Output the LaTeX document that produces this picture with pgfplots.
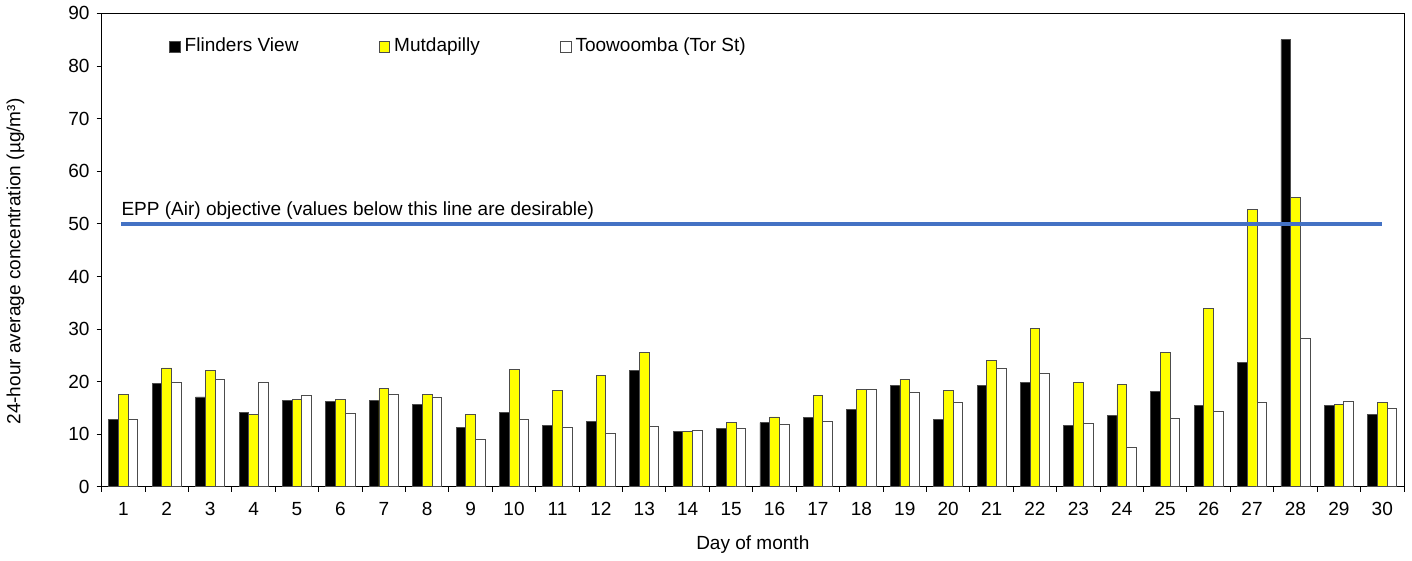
\documentclass[border=0pt]{standalone}
\usepackage{pgfplots}
\pgfplotsset{compat=1.18}
\usepackage{fontspec}
\setmainfont{Liberation Sans}
\definecolor{objblue}{RGB}{68,114,196}
\definecolor{baryellow}{RGB}{255,255,0}

\begin{document}
\begin{tikzpicture}
    \begin{axis}[
        name=ax,
        scale only axis,
        width=650.5pt,
        height=236.5pt,
        ybar=0pt,
        bar width=4.85pt,
        xmin=0.5, xmax=30.5,
        ymin=0, ymax=90,
        ytick distance=10,
        xtick={1,...,30},
        minor xtick={0.5,1.5,...,30.5},
        major x tick style={draw=none},
        minor tick length=2.5pt,
        major tick length=2.5pt,
        tick pos=left,
        tick align=outside,
        axis line style={black, line width=0.5pt},
        every tick/.style={black, line width=0.5pt},
        xlabel={Day of month},
        ylabel={24-hour average concentration (µg/m³)},
        label style={font=\fontsize{9.5}{11}\selectfont},
        tick label style={font=\fontsize{9.5}{11}\selectfont},
        /pgf/number format/assume math mode=true,
        xlabel style={at={(axis description cs:0.5,-0.1226)}, anchor=center},
        ylabel style={at={(axis description cs:-0.0661,0.476)}, anchor=center},
        xticklabel style={yshift=-1.5pt},
        legend columns=3,
        legend style={draw=none, fill=none, at={(0.0515,0.930)}, anchor=west,
            font=\fontsize{9.5}{11}\selectfont, inner sep=0pt,
            /tikz/every even column/.append style={column sep=38pt}},
        legend image code/.code={\draw[#1, line width=0.4pt] (0pt,-2.7pt) rectangle (5.4pt,2.7pt);},
    ]
    \addplot[fill=black, draw=black!70, line width=0.4pt] coordinates {
        (1,12.9) (2,19.7) (3,17.1) (4,14.1) (5,16.4) (6,16.2) (7,16.5) (8,15.6) (9,11.3) (10,14.2)
        (11,11.6) (12,12.4) (13,22.1) (14,10.5) (15,11.1) (16,12.2) (17,13.2) (18,14.7) (19,19.2) (20,12.9)
        (21,19.2) (22,19.9) (23,11.7) (24,13.5) (25,18.1) (26,15.4) (27,23.7) (28,85.0) (29,15.5) (30,13.7)
    };
    \addplot[fill=baryellow, draw=black!70, line width=0.4pt] coordinates {
        (1,17.6) (2,22.6) (3,22.1) (4,13.7) (5,16.6) (6,16.7) (7,18.7) (8,17.5) (9,13.7) (10,22.4)
        (11,18.3) (12,21.2) (13,25.5) (14,10.6) (15,12.2) (16,13.3) (17,17.3) (18,18.5) (19,20.5) (20,18.4)
        (21,24.0) (22,30.1) (23,19.8) (24,19.4) (25,25.6) (26,33.9) (27,52.8) (28,55.0) (29,15.6) (30,16.0)
    };
    \addplot[fill=white, draw=black!70, line width=0.4pt] coordinates {
        (1,12.8) (2,19.9) (3,20.4) (4,19.9) (5,17.3) (6,14.0) (7,17.5) (8,17.1) (9,9.1) (10,12.8)
        (11,11.4) (12,10.1) (13,11.5) (14,10.8) (15,11.1) (16,11.8) (17,12.5) (18,18.5) (19,17.9) (20,16.1)
        (21,22.5) (22,21.5) (23,12.0) (24,7.6) (25,13.0) (26,14.4) (27,16.0) (28,28.3) (29,16.2) (30,14.9)
    };
    \legend{Flinders View, Mutdapilly, Toowoomba (Tor St)}
    \addplot[sharp plot, objblue, line width=2pt, forget plot] coordinates {(0.95,50) (30,50)};
    \node[anchor=base west, inner sep=0pt, font=\fontsize{9.5}{11}\selectfont] at (axis cs:0.95,51.5) {EPP (Air) objective (values below this line are desirable)};
    \end{axis}
    \path (ax.north east) -- ++(4pt,0pt);
\end{tikzpicture}
\end{document}
